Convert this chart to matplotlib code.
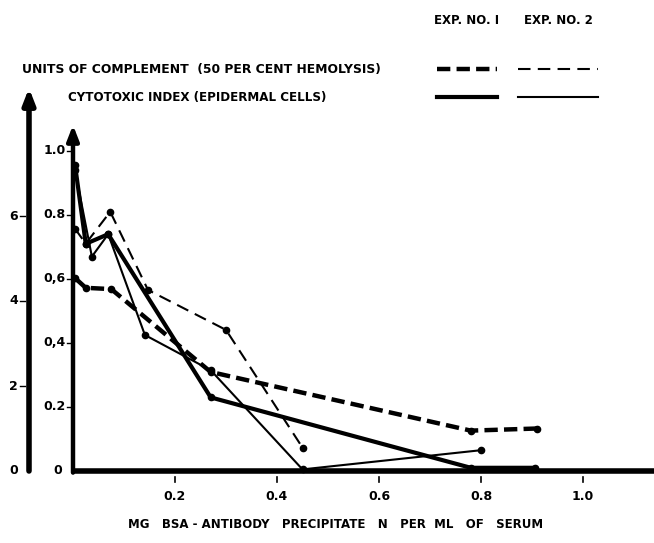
import matplotlib
matplotlib.use("Agg")
import matplotlib.pyplot as plt
from matplotlib.lines import Line2D
from matplotlib import font_manager

# ---------------- data ----------------
# Units of complement (outer axis, dashed)
comp1_x = [0.004, 0.025, 0.075, 0.27, 0.78, 0.91]
comp1_y = [4.54, 4.31, 4.28, 2.33, 0.95, 1.0]
comp2_x = [0.004, 0.025, 0.073, 0.147, 0.30, 0.45]
comp2_y = [5.7, 5.35, 6.1, 4.26, 3.32, 0.55]
# Cytotoxic index (inner axis, solid)
cyto1_x = [0.004, 0.025, 0.069, 0.27, 0.78, 0.905]
cyto1_y = [0.956, 0.71, 0.74, 0.23, 0.01, 0.01]
cyto2_x = [0.004, 0.037, 0.069, 0.141, 0.27, 0.45, 0.80]
cyto2_y = [0.94, 0.67, 0.74, 0.425, 0.315, 0.005, 0.065]

inner_ticks = [0.2, 0.4, 0.6, 0.8, 1.0]
inner_labels = ["0.2", "0,4", "0,6", "0.8", "1.0"]
outer_ticks = [2, 4, 6]
outer_labels = ["2", "4", "6"]
x_ticks = [0.2, 0.4, 0.6, 0.8, 1.0]
x_labels = ["0.2", "0.4", "0.6", "0.8", "1.0"]

title_comp = "UNITS OF COMPLEMENT  (50 PER CENT HEMOLYSIS)"
title_cyto = "CYTOTOXIC INDEX (EPIDERMAL CELLS)"
exp_labels = ["EXP. NO. I", "EXP. NO. 2"]
xlabel = "MG   BSA - ANTIBODY   PRECIPITATE   N   PER  ML   OF   SERUM"

# ---------------- font ----------------
avail = {f.name for f in font_manager.fontManager.ttflist}
fam = "Liberation Sans Narrow" if "Liberation Sans Narrow" in avail else "DejaVu Sans"
plt.rcParams['font.family'] = [fam, 'DejaVu Sans']
plt.rcParams['font.weight'] = 'bold'

W, H = 654, 543
fig = plt.figure(figsize=(W / 100, H / 100), dpi=100)

def fx(px):
    return px / W

def fy(py):
    return 1 - py / H

x0_px, base_px, top_px = 73, 471, 119
px_per_x = 510.0
px_per_inner = 320.0
px_per_outer = 42.5
outer_px = 29

xmax = (W - x0_px) / px_per_x
ymax_inner = (base_px - top_px) / px_per_inner
ymax_outer = (base_px - top_px) / px_per_outer

# outer axes (units of complement)
ax_o = fig.add_axes([fx(outer_px), fy(base_px), fx(W - outer_px), (base_px - top_px) / H])
ax_o.set_xlim(-(x0_px - outer_px) / px_per_x, xmax)
ax_o.set_ylim(0, ymax_outer)
ax_o.axis('off')

# inner axes (cytotoxic index)
ax_i = fig.add_axes([fx(x0_px), fy(base_px), fx(W - x0_px), (base_px - top_px) / H])
ax_i.set_xlim(0, xmax)
ax_i.set_ylim(0, ymax_inner)
ax_i.patch.set_alpha(0)
for s in ax_i.spines.values():
    s.set_visible(False)
ax_i.set_xticks([])
ax_i.set_yticks([])

# series
ax_o.plot(comp1_x, comp1_y, color='black', lw=3.2, dashes=(3, 1.4),
          marker='o', ms=4.5, clip_on=False)
ax_o.plot(comp2_x, comp2_y, color='black', lw=1.5, dashes=(6, 3.5),
          marker='o', ms=4.5, clip_on=False)
ax_i.plot(cyto1_x, cyto1_y, color='black', lw=3.0, solid_capstyle='round',
          marker='o', ms=4.5, clip_on=False)
ax_i.plot(cyto2_x, cyto2_y, color='black', lw=1.5,
          marker='o', ms=4.5, clip_on=False)

# axes lines
ax_i.plot([0, xmax], [0, 0], color='black', lw=4, solid_capstyle='butt', clip_on=False)
ax_i.annotate('', xy=(0, (base_px - 125) / px_per_inner), xytext=(0, -0.005),
              xycoords='data', annotation_clip=False,
              arrowprops=dict(arrowstyle='-|>,head_length=0.9,head_width=0.35', lw=3.2, color='black',
                              shrinkA=0, shrinkB=0))
xo = ax_o.get_xlim()[0]
ax_o.annotate('', xy=(xo, (base_px - 88) / px_per_outer), xytext=(xo, 0),
              xycoords='data', annotation_clip=False,
              arrowprops=dict(arrowstyle='-|>,head_length=0.9,head_width=0.35', lw=4, color='black',
                              shrinkA=0, shrinkB=0))

tfs = 9
for t, lab in zip(inner_ticks, inner_labels):
    ax_i.plot([-0.012, 0], [t, t], color='black', lw=1, clip_on=False)
    ax_i.text(-0.014, t, lab, ha='right', va='center', fontsize=tfs)
ax_i.text(-0.022, 0, "0", ha='right', va='center', fontsize=tfs)
for t, lab in zip(outer_ticks, outer_labels):
    ax_o.plot([xo - 0.018, xo - 0.008], [t, t], color='black', lw=1, clip_on=False)
    ax_o.text(xo - 0.022, t, lab, ha='right', va='center', fontsize=tfs)
ax_o.text(xo - 0.022, 0, "0", ha='right', va='center', fontsize=tfs)
for t, lab in zip(x_ticks, x_labels):
    ax_i.plot([t, t], [-0.02, -0.035], color='black', lw=1.2, clip_on=False)
    ax_i.text(t, -0.06, lab, ha='center', va='top', fontsize=tfs)

fig.text(fx(336), fy(525), xlabel, ha='center', va='center', fontsize=8.5)

fig.text(fx(22), fy(69), title_comp, ha='left', va='center', fontsize=8.9)
fig.text(fx(68), fy(97), title_cyto, ha='left', va='center', fontsize=8.6)
fig.text(fx(467), fy(20), exp_labels[0], ha='center', va='center', fontsize=8.5)
fig.text(fx(558), fy(20), exp_labels[1], ha='center', va='center', fontsize=8.5)
fig.add_artist(Line2D([fx(437), fx(497)], [fy(69), fy(69)], color='black', lw=3.2, dashes=(3, 1.4)))
fig.add_artist(Line2D([fx(518), fx(598)], [fy(69), fy(69)], color='black', lw=1.5, dashes=(6, 3.5)))
fig.add_artist(Line2D([fx(437), fx(497)], [fy(97), fy(97)], color='black', lw=3.0))
fig.add_artist(Line2D([fx(518), fx(598)], [fy(97), fy(97)], color='black', lw=1.5))

fig.savefig("out.png", dpi=100)
